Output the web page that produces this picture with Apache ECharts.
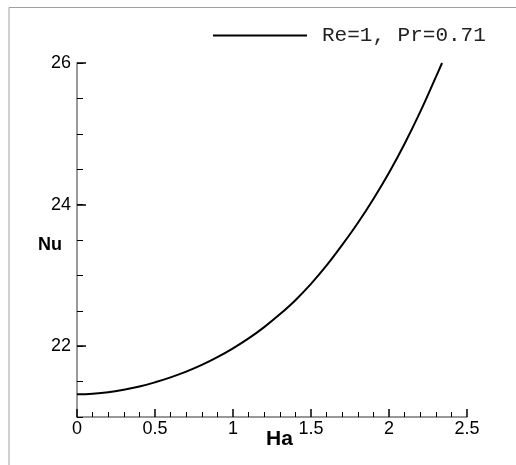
<!DOCTYPE html>
<html>
<head>
<meta charset="utf-8">
<script src="https://cdn.jsdelivr.net/npm/echarts@6/dist/echarts.min.js"></script>
<style>
  html, body { margin: 0; padding: 0; background: #fff; }
  #chart { width: 516px; height: 465px; }
</style>
</head>
<body>
<div id="chart"></div>
<script>
// Ha 值
var haValues = [0, 0.1, 0.2, 0.3, 0.4, 0.5, 0.6, 0.7, 0.8, 0.9, 1.0, 1.1, 1.2,
  1.3, 1.4, 1.5, 1.6, 1.7, 1.8, 1.9, 2.0, 2.1, 2.2, 2.3, 2.34];
// Nu 值 (Re=1, Pr=0.71)
var nuValues = [21.32, 21.33, 21.35, 21.385, 21.43, 21.49, 21.56, 21.64, 21.735,
  21.845, 21.97, 22.11, 22.27, 22.45, 22.65, 22.88, 23.14, 23.43, 23.74, 24.08,
  24.45, 24.86, 25.31, 25.80, 26.0];
var seriesName = "Re=1, Pr=0.71";
var yMajorTicks = [22, 24, 26];

var myChart = echarts.init(document.querySelector("#chart"));
var seriesData = haValues.map((v, i) => [v, nuValues[i]]);

var option = {
    animation: false,
    grid: {
        left: 77,
        right: 49,
        top: 63,
        bottom: 48
    },
    legend: {
        data: [seriesName],
        left: 213,
        top: 25,
        padding: 0,
        icon: "rect",
        itemWidth: 94,
        itemHeight: 2,
        textStyle: {
            fontFamily: "Liberation Mono",
            fontSize: 21,
            color: "#222",
            padding: [0, 0, 0, 10]
        }
    },
    xAxis: {
        type: "value",
        min: 0,
        max: 2.5,
        interval: 0.5,
        axisLine: {
            lineStyle: { color: "#777", width: 1.5 }
        },
        axisTick: {
            inside: true,
            length: 8,
            lineStyle: { color: "#000", width: 1.5 }
        },
        minorTick: {
            show: true,
            splitNumber: 5,
            length: 5,
            lineStyle: { color: "#000", width: 1 }
        },
        axisLabel: {
            color: "#000",
            fontFamily: "Liberation Sans",
            fontSize: 18,
            margin: 3,
            formatter: v => String(v)
        },
        splitLine: { show: false }
    },
    yAxis: [
        {
            type: "value",
            min: 21,
            max: 26,
            interval: 1,
            axisLine: {
                onZero: false,
                lineStyle: { color: "#777", width: 1.5 }
            },
            axisTick: {
                inside: true,
                length: 9,
                customValues: yMajorTicks,
                lineStyle: { color: "#000", width: 1.5 }
            },
            axisLabel: {
                color: "#000",
                fontFamily: "Liberation Sans",
                fontSize: 18,
                margin: 6,
                customValues: yMajorTicks
            },
            splitLine: { show: false }
        },
        {
            // 次刻度
            type: "value",
            position: "left",
            offset: 0,
            min: 21,
            max: 26,
            interval: 0.5,
            axisLine: { show: false },
            axisTick: {
                inside: true,
                length: 6,
                lineStyle: { color: "#000", width: 1 }
            },
            axisLabel: { show: false },
            splitLine: { show: false }
        }
    ],
    series: [
        {
            name: seriesName,
            type: "line",
            data: seriesData,
            smooth: 0.4,
            symbol: "none",
            color: "#000",
            lineStyle: { color: "#000", width: 2 }
        }
    ],
    graphic: [
        {
            type: "polyline",
            shape: { points: [[9, 465], [9, 7.5], [516, 7.5]] },
            style: { stroke: "#a0a0a0", lineWidth: 1, fill: null }
        },
        {
            type: "text",
            left: 38,
            top: 236,
            style: {
                text: "Nu",
                font: "bold 18px Liberation Sans",
                fill: "#000"
            }
        },
        {
            type: "text",
            left: 266,
            top: 429,
            style: {
                text: "Ha",
                font: "bold 21px Liberation Sans",
                fill: "#000"
            }
        }
    ]
};
myChart.setOption(option);
</script>
</body>
</html>
